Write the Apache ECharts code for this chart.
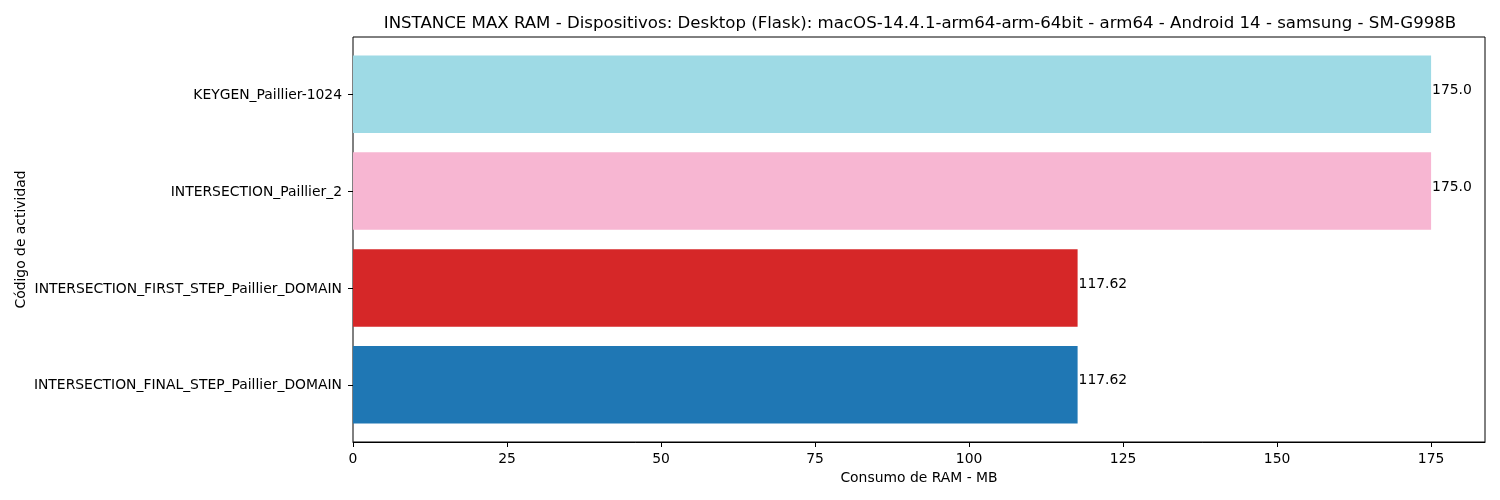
<!DOCTYPE html>
<html>
<head>
<meta charset="utf-8">
<script src="https://cdn.jsdelivr.net/npm/echarts@6/dist/echarts.min.js"></script>
<style>
  html, body { margin: 0; padding: 0; background: #fff; }
  #chart { width: 1500px; height: 500px; }
</style>
</head>
<body>
<div id="chart"></div>
<script>
// bottom to top, as in the picture
const activities = [
  "INTERSECTION_FINAL_STEP_Paillier_DOMAIN",
  "INTERSECTION_FIRST_STEP_Paillier_DOMAIN",
  "INTERSECTION_Paillier_2",
  "KEYGEN_Paillier-1024",
];
const ramValues = [117.62, 117.62, 175.0, 175.0];
const barColors = ["#1f77b4", "#d62728", "#f7b6d2", "#9edae5"];

const xMax = 183.75;
const font = "DejaVu Sans";

const chart = echarts.init(document.getElementById("chart"));

const option = {
  animation: false,
  title: {
    text: "INSTANCE MAX RAM - Dispositivos: Desktop (Flask): macOS-14.4.1-arm64-arm-64bit - arm64 - Android 14 - samsung - SM-G998B",
    left: 915,
    textAlign: "center",
    top: 10,
    textStyle: { fontFamily: font, fontSize: 16.6, fontWeight: "normal", color: "#000" },
  },
  grid: [
    // frame + x ticks
    { left: 353, right: 15, top: 37, bottom: 58, show: true, borderColor: "#000", borderWidth: 1 },
    // bars, inset like matplotlib's margins
    { left: 353, right: 15, top: 45.7, bottom: 66.7 },
  ],
  xAxis: [
    {
      gridIndex: 0,
      type: "value",
      min: 0,
      max: xMax,
      interval: 25,
      name: "Consumo de RAM - MB",
      nameLocation: "middle",
      nameGap: 29,
      nameTextStyle: { fontFamily: font, fontSize: 13.9, color: "#000" },
      axisLine: { show: true, lineStyle: { color: "#000" } },
      axisTick: { show: true, length: 5, lineStyle: { color: "#000" } },
      axisLabel: {
        fontFamily: font, fontSize: 13.9, color: "#000", margin: 10,
        showMaxLabel: false,
      },
      splitLine: { show: false },
    },
    {
      gridIndex: 1,
      type: "value",
      min: 0,
      max: xMax,
      show: false,
    },
  ],
  yAxis: [
    { gridIndex: 0, type: "value", show: false },
    {
      gridIndex: 1,
      type: "category",
      data: activities,
      name: "Código de actividad",
      nameLocation: "middle",
      nameGap: 325,
      nameMoveOverlap: false,
      nameTextStyle: { fontFamily: font, fontSize: 13.9, color: "#000" },
      axisLine: { show: false },
      axisTick: { show: true, alignWithLabel: true, length: 5, lineStyle: { color: "#000" } },
      axisLabel: {
        margin: 11,
        formatter: (v) => "{t|" + v + "}",
        rich: { t: { fontFamily: font, fontSize: 13.9, color: "#000", padding: [2, 0, 0, 0] } },
      },
    },
  ],
  series: [
    {
      type: "bar",
      xAxisIndex: 1,
      yAxisIndex: 1,
      barWidth: 77.5,
      data: ramValues.map((v, i) => ({ value: v, itemStyle: { color: barColors[i] } })),
      label: {
        show: true,
        position: "right",
        distance: 1,
        offset: [0, -4],
        fontFamily: font,
        fontSize: 13.9,
        color: "#000",
        formatter: (p) => (Number.isInteger(p.value) ? p.value.toFixed(1) : String(p.value)),
      },
    },
  ],
};

chart.setOption(option);
</script>
</body>
</html>
